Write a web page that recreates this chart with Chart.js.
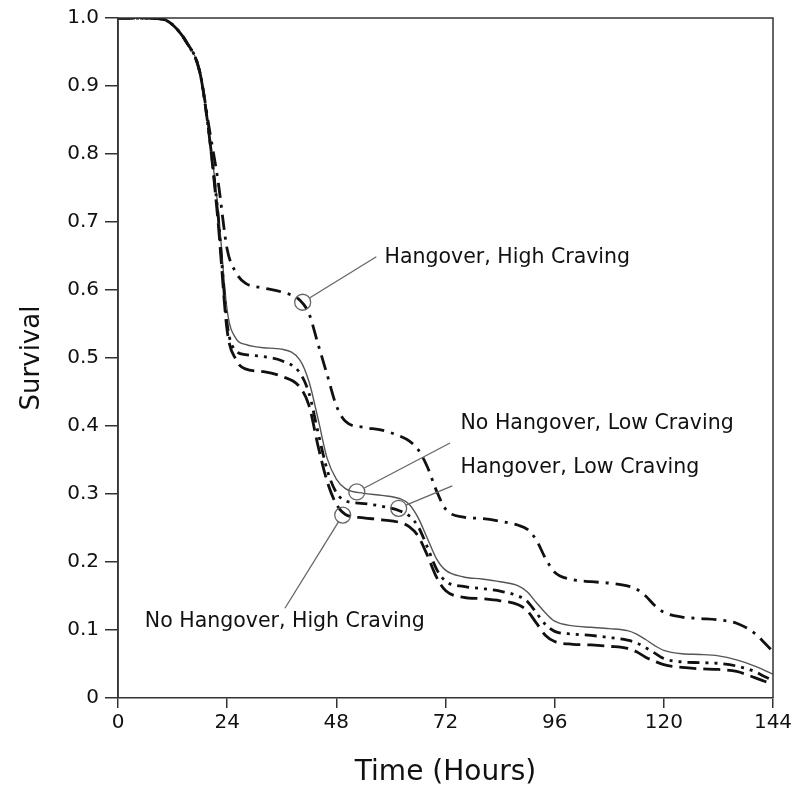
<!DOCTYPE html>
<html>
<head>
<meta charset="utf-8">
<script src="https://cdn.jsdelivr.net/npm/chart.js@4"></script>
<style>
  html, body { margin: 0; padding: 0; background: #fff; }
  #wrap { width: 800px; height: 800px; position: relative; }
</style>
</head>
<body>
<div id="wrap"><canvas id="c"></canvas></div>
<script>
// survival curves
const hours = [0, 6, 10, 12, 15, 18, 20, 22, 24, 26, 28, 32, 36, 40, 42, 44, 46, 48, 50, 54, 58, 62, 64, 66, 68, 70,
               72, 76, 80, 84, 88, 90, 92, 94, 96, 100, 104, 108, 112, 114, 116, 118, 120, 124, 128, 132, 136, 140, 142, 144];

const hangHigh = [1.0, 1.0, 0.998, 0.99, 0.965, 0.92, 0.84, 0.76, 0.66, 0.625, 0.61, 0.603, 0.597, 0.585, 0.565, 0.52,
                  0.475, 0.43, 0.407, 0.398, 0.394, 0.385, 0.378, 0.365, 0.34, 0.305, 0.278, 0.266, 0.264, 0.26, 0.254,
                  0.248, 0.232, 0.205, 0.185, 0.174, 0.171, 0.169, 0.165, 0.16, 0.15, 0.136, 0.126, 0.119, 0.117, 0.115,
                  0.11, 0.095, 0.082, 0.068];
const noHangLow = [1.0, 1.0, 0.998, 0.99, 0.965, 0.92, 0.83, 0.72, 0.57, 0.528, 0.52, 0.515, 0.513, 0.497, 0.465, 0.41,
                   0.352, 0.322, 0.308, 0.301, 0.298, 0.293, 0.285, 0.265, 0.235, 0.205, 0.188, 0.178, 0.175, 0.171, 0.165,
                   0.156, 0.14, 0.125, 0.113, 0.106, 0.104, 0.102, 0.099, 0.094, 0.086, 0.077, 0.07, 0.065, 0.064, 0.062,
                   0.056, 0.047, 0.041, 0.035];
const hangLow = [1.0, 1.0, 0.998, 0.99, 0.965, 0.92, 0.83, 0.71, 0.55, 0.51, 0.505, 0.502, 0.496, 0.478, 0.448, 0.39,
                 0.335, 0.302, 0.29, 0.286, 0.282, 0.275, 0.268, 0.252, 0.222, 0.19, 0.172, 0.164, 0.161, 0.157, 0.15,
                 0.142, 0.125, 0.108, 0.098, 0.094, 0.092, 0.089, 0.085, 0.081, 0.074, 0.066, 0.058, 0.053, 0.052, 0.051,
                 0.047, 0.039, 0.032, 0.026];
const noHangHigh = [1.0, 1.0, 0.998, 0.99, 0.965, 0.92, 0.83, 0.70, 0.54, 0.497, 0.484, 0.48, 0.473, 0.457, 0.43, 0.37,
                    0.318, 0.285, 0.27, 0.265, 0.262, 0.258, 0.252, 0.238, 0.21, 0.178, 0.158, 0.148, 0.146, 0.143, 0.137,
                    0.128, 0.11, 0.092, 0.083, 0.079, 0.078, 0.076, 0.073, 0.068, 0.06, 0.054, 0.049, 0.045, 0.043, 0.042,
                    0.039, 0.03, 0.025, 0.02];

const xTicks = [0, 24, 48, 72, 96, 120, 144];

// callouts: circle on the curve, leader line, label (all in data units)
const callouts = [
  { text: "Hangover, High Craving",    at: [40.6, 0.582], end: [56.8, 0.649], label: [58.6, 0.647] },
  { text: "No Hangover, Low Craving",  at: [52.5, 0.303], end: [73.0, 0.375], label: [75.3, 0.403] },
  { text: "Hangover, Low Craving",     at: [61.7, 0.279], end: [73.5, 0.312], label: [75.3, 0.338] },
  { text: "No Hangover, High Craving", at: [49.4, 0.269], end: [36.7, 0.132], label: [5.9, 0.112] }
];

const FONT = "'DejaVu Sans', sans-serif";

function pts(vals) { return hours.map((h, i) => ({ x: h, y: vals[i] })); }

const boxPlugin = {
  id: "box",
  afterDraw(chart) {
    const a = chart.chartArea, ctx = chart.ctx;
    ctx.save();
    ctx.strokeStyle = "#333";
    ctx.lineWidth = 1.5;
    ctx.beginPath();
    ctx.moveTo(a.left, a.bottom);
    ctx.lineTo(a.left, a.top);
    ctx.lineTo(a.right, a.top);
    ctx.lineTo(a.right, a.bottom);
    ctx.stroke();
    ctx.restore();
  }
};

const calloutPlugin = {
  id: "callouts",
  afterDraw(chart) {
    const xs = chart.scales.x, ys = chart.scales.y, ctx = chart.ctx;
    ctx.save();
    callouts.forEach(c => {
      const cx = xs.getPixelForValue(c.at[0]), cy = ys.getPixelForValue(c.at[1]);
      const ex = xs.getPixelForValue(c.end[0]), ey = ys.getPixelForValue(c.end[1]);
      const r = 8;
      const ang = Math.atan2(ey - cy, ex - cx);
      ctx.strokeStyle = "#666";
      ctx.lineWidth = 1.3;
      ctx.beginPath();
      ctx.arc(cx, cy, r, 0, Math.PI * 2);
      ctx.stroke();
      ctx.beginPath();
      ctx.moveTo(cx + r * Math.cos(ang), cy + r * Math.sin(ang));
      ctx.lineTo(ex, ey);
      ctx.stroke();
      ctx.fillStyle = "#111";
      ctx.font = "20.5px " + FONT;
      ctx.textBaseline = "middle";
      ctx.textAlign = "left";
      ctx.fillText(c.text, xs.getPixelForValue(c.label[0]), ys.getPixelForValue(c.label[1]));
    });
    ctx.restore();
  }
};

new Chart(document.getElementById("c").getContext("2d"), {
  type: "line",
  data: {
    datasets: [
      { label: "Hangover, High Craving", data: pts(hangHigh), borderColor: "#111", borderWidth: 2.8,
        borderDash: [15, 7, 3, 7] },
      { label: "Hangover, Low Craving", data: pts(hangLow), borderColor: "#111", borderWidth: 2.8,
        borderDash: [12, 6, 3, 6, 3, 6] },
      { label: "No Hangover, High Craving", data: pts(noHangHigh), borderColor: "#111", borderWidth: 2.8,
        borderDash: [17, 7] },
      { label: "No Hangover, Low Craving", data: pts(noHangLow), borderColor: "#555", borderWidth: 1.4,
        borderDash: [] }
    ]
  },
  options: {
    responsive: true,
    maintainAspectRatio: false,
    animation: false,
    elements: {
      point: { radius: 0 },
      line: { cubicInterpolationMode: "monotone", fill: false }
    },
    layout: { padding: { top: 18, right: 27, left: 0, bottom: 0 } },
    plugins: { legend: { display: false }, tooltip: { enabled: false } },
    scales: {
      x: {
        type: "linear", min: 0, max: 144,
        afterBuildTicks: s => { s.ticks = xTicks.map(v => ({ value: v })); },
        afterFit: s => { s.height = 102; },
        ticks: { color: "#111", font: { family: FONT, size: 20 }, padding: 3, maxRotation: 0 },
        grid: { drawOnChartArea: false, tickLength: 10, color: "#333", lineWidth: 1.5 },
        border: { color: "#333", width: 1.5 },
        title: { display: true, text: "Time (Hours)", color: "#111", font: { family: FONT, size: 28 },
                 padding: { top: 0, bottom: 10 } }
      },
      y: {
        min: 0, max: 1,
        ticks: { stepSize: 0.1, color: "#111", font: { family: FONT, size: 20 }, padding: 6,
                 callback: v => (v === 0 ? "0" : v.toFixed(1)) },
        afterFit: s => { s.width = 118; },
        grid: { drawOnChartArea: false, tickLength: 13, color: "#333", lineWidth: 1.5 },
        border: { color: "#333", width: 1.5 },
        title: { display: true, text: "Survival", color: "#111", font: { family: FONT, size: 26 },
                 padding: { top: 17, bottom: 0 } }
      }
    }
  },
  plugins: [boxPlugin, calloutPlugin]
});
</script>
</body>
</html>
